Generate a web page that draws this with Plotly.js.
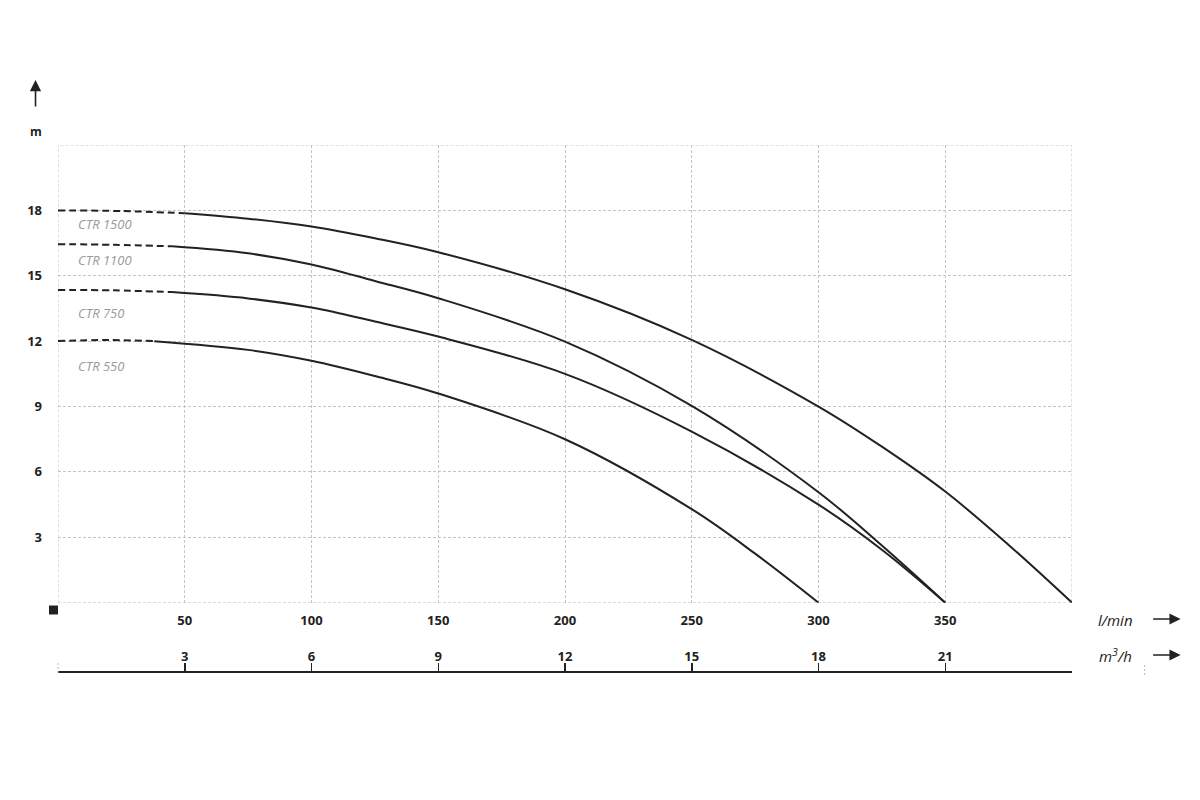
<!DOCTYPE html>
<html>
<head>
<meta charset="utf-8">
<script src="https://cdn.plot.ly/plotly-3.0.1.min.js"></script>
<style>html,body{margin:0;padding:0;background:#fff;}#chart{width:1200px;height:800px;}</style>
</head>
<body>
<div id="chart"></div>
<script>
// Flow in l/min, head in m
const ctr1500DashX = [0, 25, 50];
const ctr1500DashY = [18.0, 17.97, 17.87];
const ctr1500X = [50, 75, 100, 125, 150, 200, 250, 300, 325, 350, 375, 400];
const ctr1500Y = [17.87, 17.62, 17.26, 16.72, 16.08, 14.38, 12.06, 9.0, 7.16, 5.1, 2.65, 0];

const ctr1100DashX = [0, 22, 45];
const ctr1100DashY = [16.45, 16.42, 16.35];
const ctr1100X = [45, 75, 100, 125, 150, 200, 250, 300, 325, 350];
const ctr1100Y = [16.35, 16.03, 15.52, 14.76, 13.97, 11.98, 9.03, 5.07, 2.62, 0];

const ctr750DashX = [0, 22, 45];
const ctr750DashY = [14.35, 14.33, 14.25];
const ctr750X = [45, 75, 100, 125, 150, 200, 250, 300, 325, 350];
const ctr750Y = [14.25, 13.96, 13.54, 12.9, 12.21, 10.5, 7.85, 4.5, 2.43, 0];

const ctr550DashX = [0, 20, 38];
const ctr550DashY = [12.01, 12.05, 12.0];
const ctr550X = [38, 75, 100, 125, 150, 200, 250, 275, 300];
const ctr550Y = [12.0, 11.6, 11.1, 10.4, 9.6, 7.5, 4.29, 2.25, 0];

const seriesNames = ['CTR 1500', 'CTR 1100', 'CTR 750', 'CTR 550'];
const labelY = [17.38, 15.73, 13.3, 10.87];

const xTickVals = [0, 50, 100, 150, 200, 250, 300, 350, 400];
const xTickText = ['', '50', '100', '150', '200', '250', '300', '350', ''];
const yTickVals = [0, 3, 6, 9, 12, 15, 18, 21];
const yTickText = ['', '3', '6', '9', '12', '15', '18', ''];
const m3hTickVals = [3, 6, 9, 12, 15, 18, 21];
const m3hTickText = ['3', '6', '9', '12', '15', '18', '21'];

const FONT = 'Open Sans, Noto Sans, sans-serif';
const lineColor = '#222';
const gridColor = '#c4c4c4';

const groups = [
  [ctr1500DashX, ctr1500DashY, ctr1500X, ctr1500Y],
  [ctr1100DashX, ctr1100DashY, ctr1100X, ctr1100Y],
  [ctr750DashX, ctr750DashY, ctr750X, ctr750Y],
  [ctr550DashX, ctr550DashY, ctr550X, ctr550Y]
];

const traces = [];
groups.forEach((g, i) => {
  traces.push({x: g[0], y: g[1], type: 'scatter', mode: 'lines', name: seriesNames[i] + ' (ext)',
    line: {color: lineColor, width: 2, dash: '7px,4px', shape: 'spline'}, hoverinfo: 'skip', xaxis: 'x', yaxis: 'y', cliponaxis: false});
  traces.push({x: g[2], y: g[3], type: 'scatter', mode: 'lines', name: seriesNames[i],
    line: {color: lineColor, width: 2, shape: 'spline', smoothing: 1}, xaxis: 'x', yaxis: 'y', cliponaxis: false});
});
// dummy trace for second (m3/h) axis
traces.push({x: [0, 24], y: [0, 1], type: 'scatter', mode: 'none', xaxis: 'x2', yaxis: 'y2', hoverinfo: 'skip', showlegend: false});

const W = 1200, H = 800;
const L = 57.5, R = 1072.3, T = 145, B = 680;
const pw = R - L, ph = B - T;
const px = v => (v - L) / pw;
const py = v => (B - v) / ph;

const annotations = seriesNames.map((n, i) => ({
  x: 7, y: labelY[i], xref: 'x', yref: 'y', text: n, showarrow: false, xanchor: 'left', yanchor: 'middle',
  font: {family: FONT, size: 13, color: '#9a9a9a', style: 'italic'}
}));
annotations.push(
  {x: px(35), y: py(132), xref: 'paper', yref: 'paper', text: '<b>m</b>', showarrow: false,
   xanchor: 'center', yanchor: 'middle', font: {family: FONT, size: 12, color: '#222'}},
  {x: px(35), y: py(80), xref: 'paper', yref: 'paper', text: '', showarrow: true, ax: 0, ay: 28,
   arrowhead: 2, arrowsize: 1.4, arrowwidth: 1.6, arrowcolor: '#222'},
  {x: px(1116), y: py(620), xref: 'paper', yref: 'paper', text: 'l/min', showarrow: false,
   xanchor: 'center', yanchor: 'middle', font: {family: FONT, size: 15, color: '#222', style: 'italic'}},
  {x: px(1181), y: py(619), xref: 'paper', yref: 'paper', text: '', showarrow: true, ax: -29, ay: 0,
   arrowhead: 2, arrowsize: 1.4, arrowwidth: 1.6, arrowcolor: '#222'},
  {x: px(1116), y: py(655), xref: 'paper', yref: 'paper', text: 'm<sup>3</sup>/h', showarrow: false,
   xanchor: 'center', yanchor: 'middle', font: {family: FONT, size: 15, color: '#222', style: 'italic'}},
  {x: px(1181), y: py(655), xref: 'paper', yref: 'paper', text: '', showarrow: true, ax: -29, ay: 0,
   arrowhead: 2, arrowsize: 1.4, arrowwidth: 1.6, arrowcolor: '#222'}
);

const shapes = [
  // dashed frame of the grid (edge grid lines)
  {type: 'rect', xref: 'x', yref: 'y', x0: 0, x1: 400, y0: 0, y1: 21, layer: 'below',
   line: {color: gridColor, width: 1, dash: '3px,2px'}},
  {type: 'rect', xref: 'paper', yref: 'paper', x0: px(48.5), x1: px(57.5), y0: py(614.5), y1: py(605.5),
   fillcolor: '#222', line: {width: 0}},
  {type: 'line', xref: 'paper', yref: 'paper', x0: px(1145), x1: px(1145), y0: py(675), y1: py(665),
   line: {color: '#bbb', width: 1, dash: '2px,2px'}},
  {type: 'line', xref: 'paper', yref: 'paper', x0: 0, x1: 0, y0: py(673), y1: py(662),
   line: {color: '#bbb', width: 1, dash: '2px,2px'}}
];

const layout = {
  width: W, height: H,
  margin: {l: L, r: W - R, t: T, b: H - B, pad: 0},
  paper_bgcolor: '#fff', plot_bgcolor: '#fff',
  showlegend: false,
  font: {family: FONT, color: '#222'},
  xaxis: {
    range: [0, 400], tickvals: xTickVals, ticktext: xTickText, domain: [0, 1], anchor: 'y',
    showgrid: true, gridcolor: gridColor, griddash: '3px,2px', gridwidth: 1,
    zeroline: false, showline: false, ticks: '', ticklabelstandoff: 8,
    tickfont: {family: FONT, size: 13, color: '#222', weight: 'bold'}
  },
  yaxis: {
    range: [0, 21], tickvals: yTickVals, ticktext: yTickText, domain: [py(602.7), 1], anchor: 'x',
    showgrid: true, gridcolor: gridColor, griddash: '3px,2px', gridwidth: 1,
    zeroline: false, showline: false, ticks: '', ticklabelstandoff: 15,
    tickfont: {family: FONT, size: 13, color: '#222', weight: 'bold'}
  },
  xaxis2: {
    range: [0, 24], tickvals: m3hTickVals, ticktext: m3hTickText, anchor: 'y2', side: 'top',
    showgrid: false, zeroline: false, showline: true, linecolor: '#222', linewidth: 2,
    ticks: 'outside', ticklen: 8, tickwidth: 1.5, tickcolor: '#222', ticklabelstandoff: -3,
    tickfont: {family: FONT, size: 13, color: '#222', weight: 'bold'}
  },
  yaxis2: {
    range: [0, 1], domain: [0, py(673)], anchor: 'x2', visible: false
  },
  annotations: annotations,
  shapes: shapes
};

Plotly.newPlot('chart', traces, layout, {displayModeBar: false, staticPlot: true});
</script>
</body>
</html>
